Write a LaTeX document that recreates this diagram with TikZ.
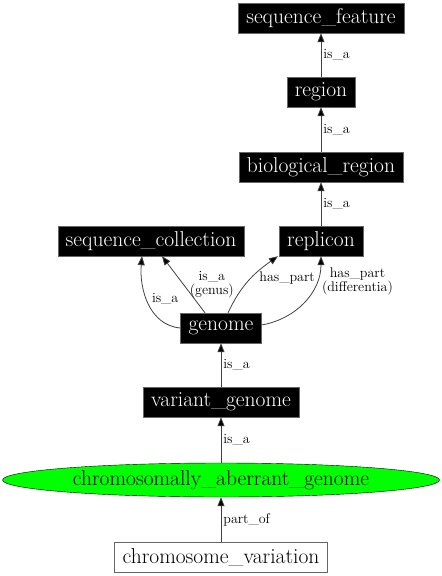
\documentclass[tikz,border=0pt]{standalone}
\usepackage{fontspec}
\usetikzlibrary{arrows.meta,shapes.geometric}
\begin{document}
\begin{tikzpicture}[x=1pt,y=-1pt,
    term/.style={fill=black,draw=black!60,text=white,inner xsep=8pt,inner ysep=0pt,
      minimum height=30pt,font=\fontsize{21.5}{23}\selectfont},
    plain/.style={fill=white,draw=black!60,inner xsep=8pt,inner ysep=0pt,
      minimum height=30pt,font=\fontsize{21.5}{23}\selectfont},
    focus/.style={ellipse,fill=green,draw=black,inner sep=0pt,minimum width=437pt,
      minimum height=34pt,font=\fontsize{21.5}{23}\selectfont},
    rel/.style={font=\fontsize{14}{12}\selectfont,inner sep=2pt,align=center},
    edge/.style={draw=black!75,line width=0.8pt,-{Triangle[length=9pt,width=7pt,fill=black]}}]
  \useasboundingbox (0,0) rectangle (442,576);
  \draw
    (321,18) node[term] (sf){sequence\_feature}
    (321,92) node[term] (region){region}
    (321,167) node[term] (bioregion){biological\_region}
    (151,241) node[term] (seqcoll){sequence\_collection}
    (321,241) node[term] (replicon){replicon}
    (221,328) node[term] (genome){genome}
    (221,402) node[term] (vargenome){variant\_genome}
    (221,480) node[focus] (cag){chromosomally\_aberrant\_genome}
    (221,557) node[plain] (chromvar){chromosome\_variation};
  \begin{scope}[every node/.style={rel}]
    \draw[edge] (region) -- node[right]{is\_a} (sf);
    \draw[edge] (bioregion) -- node[right]{is\_a} (region);
    \draw[edge] (replicon) -- node[right]{is\_a} (bioregion);
    \draw[edge] (genome.west) to[out=175,in=-95]
      node[pos=.55,right=3pt]{is\_a} ([xshift=-9pt]seqcoll.south);
    \draw[edge] ([xshift=-16pt]genome.north) --
      node[pos=.5,right=4pt]{is\_a\\(genus)} ([xshift=11pt]seqcoll.south);
    \draw[edge] ([xshift=7pt]genome.north) to[out=65,in=-145]
      node[pos=.55,right=6pt]{has\_part} ([xshift=-1pt]replicon.south west);
    \draw[edge] ([yshift=3pt]genome.east) to[out=10,in=-90]
      node[pos=.75,right=3pt]{has\_part\\(differentia)} (replicon.south);
    \draw[edge] (vargenome) -- node[right]{is\_a} (genome);
    \draw[edge] (cag) -- node[right]{is\_a} (vargenome);
    \draw[edge] (chromvar) -- node[right]{part\_of} (cag);
  \end{scope}
\end{tikzpicture}
\end{document}
